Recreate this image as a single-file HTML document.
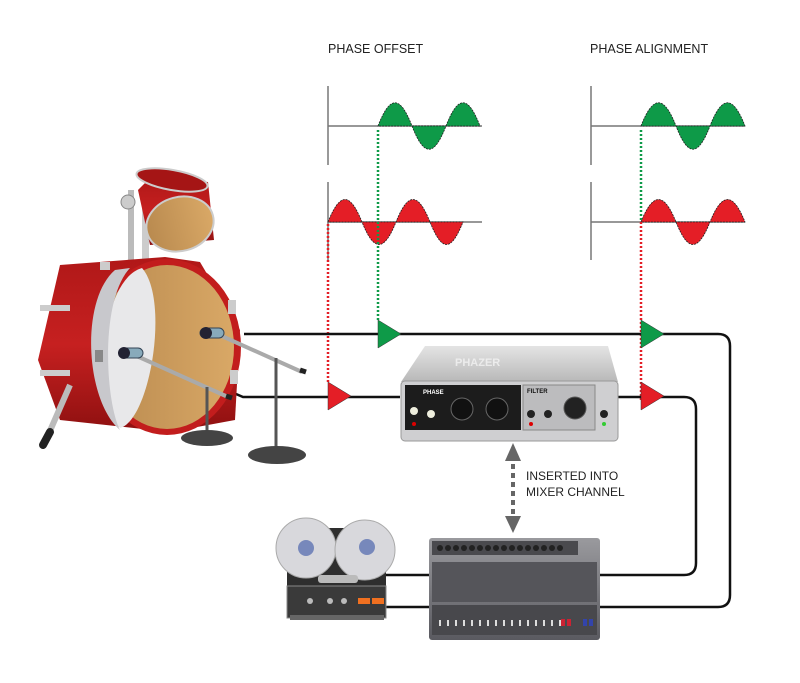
<!DOCTYPE html>
<html><head><meta charset="utf-8"><style>
html,body{margin:0;padding:0;background:#fff;}
svg{display:block;}
text{font-family:"Liberation Sans",sans-serif;}
</style></head><body>
<svg width="800" height="683" viewBox="0 0 800 683" xmlns="http://www.w3.org/2000/svg">
<defs>
<linearGradient id="wood" x1="0" x2="1"><stop offset="0" stop-color="#b98a4f"/><stop offset="1" stop-color="#d9a866"/></linearGradient>
<linearGradient id="red" x1="0" x2="0" y1="0" y2="1"><stop offset="0" stop-color="#b01818"/><stop offset="0.5" stop-color="#c62020"/><stop offset="1" stop-color="#8e1010"/></linearGradient>
<linearGradient id="box" x1="0" x2="0" y1="0" y2="1"><stop offset="0" stop-color="#e4e4e4"/><stop offset="1" stop-color="#b8b8b8"/></linearGradient>
<linearGradient id="mix" x1="0" x2="0" y1="0" y2="1"><stop offset="0" stop-color="#9a9a9e"/><stop offset="1" stop-color="#5a5a60"/></linearGradient>
</defs>

<text x="328" y="53" font-size="12.5" fill="#222">PHASE OFFSET</text>
<text x="590" y="53" font-size="12.5" fill="#222">PHASE ALIGNMENT</text>

<!-- axes -->
<g stroke="#777" stroke-width="1.5" fill="none">
<line x1="328" y1="86" x2="328" y2="165"/><line x1="328" y1="126" x2="482" y2="126"/>
<line x1="328" y1="182" x2="328" y2="260"/><line x1="328" y1="222" x2="482" y2="222"/>
<line x1="591" y1="86" x2="591" y2="165"/><line x1="591" y1="126" x2="745" y2="126"/>
<line x1="591" y1="182" x2="591" y2="260"/><line x1="591" y1="222" x2="745" y2="222"/>
</g>

<!-- waves -->
<g stroke="#222" stroke-width="0.8" stroke-dasharray="2,1">
<path fill="#0e9a48" d="M378,126 C390,95 400,95 412,126 C424,157 434,157 446,126 C458,95 468,95 480,126 Z"/>
<path fill="#e41e26" d="M328,222 C340,192 350,192 362,222 C374,252 384,252 396,222 C408,192 418,192 430,222 C442,252 451,252 463,222 Z"/>
<path fill="#0e9a48" d="M641,126 C653,95 664,95 676,126 C688,157 698,157 710,126 C722,95 733,95 745,126 Z"/>
<path fill="#e41e26" d="M641,222 C653,192 664,192 676,222 C688,252 698,252 710,222 C722,192 733,192 745,222 Z"/>
</g>

<!-- dotted lines -->
<g stroke-width="2.5" stroke-dasharray="2,2" fill="none">
<line x1="378" y1="130" x2="378" y2="320" stroke="#0e9a48"/>
<line x1="328" y1="224" x2="328" y2="382" stroke="#e41e26"/>
<line x1="641" y1="130" x2="641" y2="222" stroke="#0e9a48"/>
<line x1="641" y1="222" x2="641" y2="400" stroke="#e41e26"/>
</g>

<!-- cables -->
<g stroke="#111" stroke-width="2.5" fill="none">
<path d="M244,334 L718,334 Q730,334 730,346 L730,595 Q730,607 718,607 L600,607"/>
<path d="M150,357 L243,397 L400,397"/>
<path d="M618,397 L684,397 Q696,397 696,409 L696,563 Q696,575 684,575 L600,575"/>
<path d="M385,575 L430,575"/><path d="M385,607 L430,607"/>
</g>

<!-- triangles -->
<polygon points="378,320 378,348 401,334" fill="#0e9a48" stroke="#333" stroke-width="0.5"/>
<polygon points="641,320 641,348 664,334" fill="#0e9a48" stroke="#333" stroke-width="0.5"/>
<polygon points="328,382 328,410 351,396" fill="#e41e26" stroke="#333" stroke-width="0.5"/>
<polygon points="641,382 641,410 664,396" fill="#e41e26" stroke="#333" stroke-width="0.5"/>

<!-- tom -->
<g>
<rect x="128" y="190" width="6" height="90" fill="#bbb"/><rect x="142" y="195" width="7" height="88" fill="#ccc"/>
<circle cx="128" cy="202" r="7" fill="#ccc" stroke="#888"/>
<path d="M138,190 L150,178 L208,182 L214,240 L150,245 Z" fill="url(#red)"/>
<ellipse cx="180" cy="224" rx="34" ry="27" fill="url(#wood)" stroke="#ccc" stroke-width="2" transform="rotate(-15 180 224)"/>
<ellipse cx="172" cy="180" rx="36" ry="10" fill="#a51515" stroke="#ccc" stroke-width="2" transform="rotate(10 172 180)"/>
</g>

<!-- bass drum -->
<g>
<path d="M60,265 L165,257 L200,262 L240,330 L235,420 L170,432 L60,420 L38,360 Z" fill="url(#red)"/>
<ellipse cx="167" cy="347" rx="74" ry="88" fill="#c21d1d"/>
<ellipse cx="167" cy="347" rx="67" ry="82" fill="url(#wood)"/>
<path d="M142,268 C100,280 92,400 120,428 C150,420 170,300 142,268 Z" fill="#e8e8ea"/>
<path d="M115,270 C80,300 85,400 120,430 C105,400 100,300 130,268 Z" fill="#c8c8cc"/>
<g fill="#ccc"><rect x="40" y="305" width="30" height="6"/><rect x="40" y="370" width="30" height="6"/><rect x="100" y="262" width="10" height="8"/><rect x="228" y="300" width="8" height="14"/><rect x="230" y="370" width="8" height="14"/><rect x="95" y="350" width="8" height="12" fill="#888"/></g>
<line x1="70" y1="385" x2="46" y2="440" stroke="#bbb" stroke-width="6"/>
<line x1="50" y1="432" x2="43" y2="445" stroke="#222" stroke-width="8" stroke-linecap="round"/>
</g>

<!-- mic stands -->
<g>
<line x1="215" y1="333" x2="302" y2="372" stroke="#aaa" stroke-width="4"/>
<line x1="300" y1="370" x2="306" y2="372" stroke="#222" stroke-width="5"/>
<line x1="276" y1="358" x2="276" y2="450" stroke="#555" stroke-width="3"/>
<ellipse cx="277" cy="455" rx="29" ry="9" fill="#444"/>
<rect x="200" y="328" width="24" height="10" rx="5" fill="#8ab" stroke="#345"/>
<circle cx="206" cy="333" r="6" fill="#223"/>
<line x1="130" y1="353" x2="228" y2="397" stroke="#aaa" stroke-width="4"/>
<line x1="226" y1="396" x2="232" y2="398" stroke="#222" stroke-width="5"/>
<line x1="207" y1="387" x2="207" y2="432" stroke="#555" stroke-width="3"/>
<ellipse cx="207" cy="438" rx="26" ry="8" fill="#444"/>
<rect x="119" y="348" width="24" height="10" rx="5" fill="#8ab" stroke="#345"/>
<circle cx="124" cy="353" r="6" fill="#223"/>
</g>

<!-- DI box -->
<g>
<path d="M425,346 L608,346 L618,382 L401,382 Z" fill="url(#box)"/>
<text x="455" y="366" font-size="11" fill="#fff" font-weight="bold" opacity="0.6">PHAZER</text>
<rect x="401" y="381" width="217" height="60" rx="4" fill="#cfcfd1" stroke="#999"/>
<rect x="405" y="385" width="116" height="45" fill="#1c1c1c"/>
<rect x="523" y="385" width="72" height="45" fill="#bcbcbe" stroke="#888"/>
<text x="423" y="394" font-size="6" fill="#fff" font-weight="bold">PHASE</text>
<text x="527" y="393" font-size="6" fill="#111" font-weight="bold">FILTER</text>
<circle cx="462" cy="409" r="11" fill="#111" stroke="#666"/><circle cx="497" cy="409" r="11" fill="#111" stroke="#666"/>
<circle cx="575" cy="408" r="11" fill="#222" stroke="#555"/>
<circle cx="414" cy="411" r="4" fill="#eed"/><circle cx="431" cy="414" r="4" fill="#eed"/>
<circle cx="531" cy="414" r="4" fill="#222"/><circle cx="548" cy="414" r="4" fill="#222"/><circle cx="604" cy="414" r="4" fill="#222"/>
<circle cx="414" cy="424" r="2" fill="#d00"/><circle cx="531" cy="424" r="2" fill="#d00"/><circle cx="604" cy="424" r="2" fill="#3c3"/>
</g>

<!-- dotted double arrow -->
<line x1="513" y1="455" x2="513" y2="522" stroke="#666" stroke-width="4" stroke-dasharray="5,4"/>
<polygon points="505,461 513,443 521,461" fill="#666"/>
<polygon points="505,516 513,533 521,516" fill="#666"/>
<text x="526" y="480" font-size="12" fill="#222">INSERTED INTO</text>
<text x="526" y="496" font-size="12" fill="#222">MIXER CHANNEL</text>

<!-- tape machine -->
<g>
<rect x="287" y="528" width="99" height="60" fill="#2e2e2e"/>
<rect x="287" y="586" width="99" height="32" fill="#3a3a3a" stroke="#888"/>
<rect x="290" y="615" width="94" height="5" fill="#666"/>
<circle cx="306" cy="548" r="30" fill="#d8d8dc" stroke="#aaa"/><circle cx="306" cy="548" r="8" fill="#7788bb"/>
<circle cx="365" cy="550" r="30" fill="#d8d8dc" stroke="#aaa"/><circle cx="367" cy="547" r="8" fill="#7788bb"/>
<rect x="318" y="575" width="40" height="8" rx="3" fill="#bbb"/>
<rect x="358" y="598" width="12" height="6" fill="#f07020"/><rect x="372" y="598" width="12" height="6" fill="#f07020"/>
<circle cx="310" cy="601" r="3" fill="#bbb"/><circle cx="330" cy="601" r="3" fill="#bbb"/><circle cx="344" cy="601" r="3" fill="#bbb"/>
</g>

<!-- mixer -->
<g>
<rect x="429" y="538" width="171" height="102" rx="3" fill="url(#mix)"/>
<rect x="432" y="541" width="146" height="14" fill="#4a4a4e"/>
<g fill="#222">
<circle cx="440" cy="548" r="3"/><circle cx="448" cy="548" r="3"/><circle cx="456" cy="548" r="3"/><circle cx="464" cy="548" r="3"/><circle cx="472" cy="548" r="3"/><circle cx="480" cy="548" r="3"/><circle cx="488" cy="548" r="3"/><circle cx="496" cy="548" r="3"/><circle cx="504" cy="548" r="3"/><circle cx="512" cy="548" r="3"/><circle cx="520" cy="548" r="3"/><circle cx="528" cy="548" r="3"/><circle cx="536" cy="548" r="3"/><circle cx="544" cy="548" r="3"/><circle cx="552" cy="548" r="3"/><circle cx="560" cy="548" r="3"/>
</g>
<rect x="432" y="562" width="165" height="40" fill="#55555a"/>
<rect x="432" y="605" width="165" height="30" fill="#48484c"/>
<g stroke="#ddd" stroke-width="2">
<line x1="440" y1="620" x2="440" y2="626"/><line x1="448" y1="620" x2="448" y2="626"/><line x1="456" y1="620" x2="456" y2="626"/><line x1="464" y1="620" x2="464" y2="626"/><line x1="472" y1="620" x2="472" y2="626"/><line x1="480" y1="620" x2="480" y2="626"/><line x1="488" y1="620" x2="488" y2="626"/><line x1="496" y1="620" x2="496" y2="626"/><line x1="504" y1="620" x2="504" y2="626"/><line x1="512" y1="620" x2="512" y2="626"/><line x1="520" y1="620" x2="520" y2="626"/><line x1="528" y1="620" x2="528" y2="626"/><line x1="536" y1="620" x2="536" y2="626"/><line x1="544" y1="620" x2="544" y2="626"/><line x1="552" y1="620" x2="552" y2="626"/><line x1="560" y1="620" x2="560" y2="626"/>
</g>
<rect x="561" y="619" width="4" height="7" fill="#c23"/><rect x="567" y="619" width="4" height="7" fill="#c23"/><rect x="583" y="619" width="4" height="7" fill="#34a"/><rect x="589" y="619" width="4" height="7" fill="#34a"/>
</g>
</svg>
</body></html>
